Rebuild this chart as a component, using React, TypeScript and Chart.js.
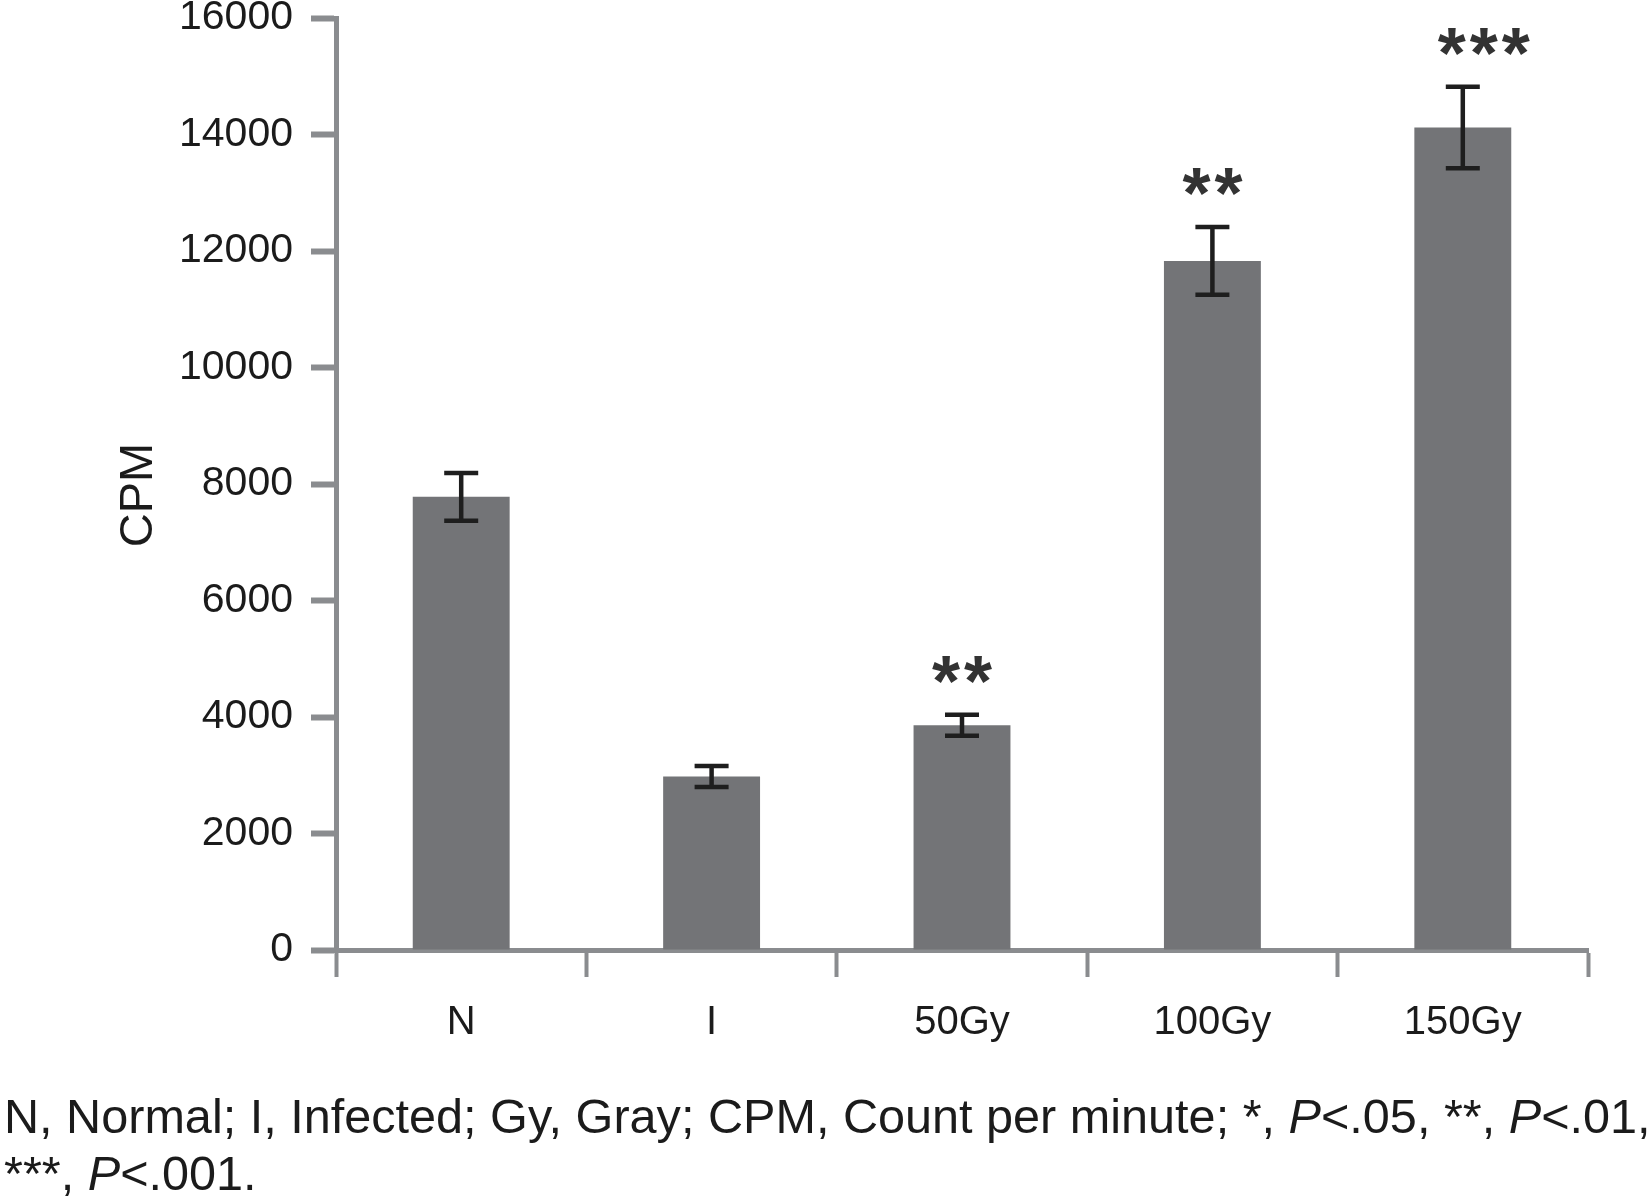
import React, { useEffect, useRef } from 'react';
import { Chart, registerables } from 'chart.js';

Chart.register(...registerables);

// ---- data ----
const categories = ['N', 'I', '50Gy', '100Gy', '150Gy'];
const cpmMeans = [7780, 2980, 3860, 11830, 14120];
const cpmErrors = [410, 180, 180, 580, 700];
const significance = ['', '', '**', '**', '***'];
const yMin = 0;
const yMax = 16000;
const yStep = 2000;
const yAxisTitle = 'CPM';
// caption segments: [text, italic]
const captionLine1: [string, boolean][] = [
  ['N, Normal; I, Infected; Gy, Gray; CPM, Count per minute; *, ', false],
  ['P', true],
  ['<.05, **, ', false],
  ['P', true],
  ['<.01,', false],
];
const captionLine2: [string, boolean][] = [
  ['***, ', false],
  ['P', true],
  ['<.001.', false],
];

const FONT = '"Liberation Sans", Arial, Helvetica, sans-serif';
const AXIS_COLOR = '#8a8c8f';
const TEXT_COLOR = '#1b1b1b';
const BAR_COLOR = '#737477';

const errorBarPlugin = {
  id: 'errorBarsAndStars',
  afterDatasetsDraw(chart: any) {
    const meta = chart.getDatasetMeta(0);
    const y = chart.scales.y;
    const ctx = chart.ctx;
    ctx.save();
    ctx.strokeStyle = '#1e1e1e';
    ctx.lineWidth = 4.5;
    ctx.lineCap = 'butt';
    meta.data.forEach((bar: any, i: number) => {
      const x = bar.x;
      const top = y.getPixelForValue(cpmMeans[i] + cpmErrors[i]);
      const bot = y.getPixelForValue(cpmMeans[i] - cpmErrors[i]);
      const half = 17;
      ctx.beginPath();
      ctx.moveTo(x, top);
      ctx.lineTo(x, bot);
      ctx.moveTo(x - half, top);
      ctx.lineTo(x + half, top);
      ctx.moveTo(x - half, bot);
      ctx.lineTo(x + half, bot);
      ctx.stroke();
      const sig = significance[i];
      if (sig) {
        const size = 72;
        ctx.font = `bold ${size}px ${FONT}`;
        (ctx as any).letterSpacing = '4px';
        ctx.fillStyle = '#333333';
        ctx.textAlign = 'center';
        ctx.textBaseline = 'alphabetic';
        const centerY = top - 50;
        const shift = sig.length >= 3 ? 23 : 2;
        ctx.fillText(sig, x + shift, centerY + 0.573 * size);
        (ctx as any).letterSpacing = '0px';
      }
    });
    ctx.restore();
  },
  afterDraw(chart: any) {
    const ctx = chart.ctx;
    ctx.save();
    ctx.fillStyle = TEXT_COLOR;
    ctx.textAlign = 'left';
    ctx.textBaseline = 'alphabetic';
    const draw = (segs: [string, boolean][], x0: number, yb: number) => {
      let x = x0;
      for (const [t, it] of segs) {
        ctx.font = `${it ? 'italic ' : ''}48.6px ${FONT}`;
        ctx.fillText(t, x, yb);
        x += ctx.measureText(t).width;
      }
    };
    draw(captionLine1, 4, 1133);
    draw(captionLine2, 4, 1190);

    // y-axis title
    const ya = chart.scales.y;
    ctx.save();
    ctx.translate(139, (ya.top + ya.bottom) / 2 + 11);
    ctx.rotate(-Math.PI / 2);
    ctx.font = `47px ${FONT}`;
    ctx.textAlign = 'center';
    ctx.textBaseline = 'middle';
    ctx.fillText(yAxisTitle, 0, 0);
    ctx.restore();
    ctx.restore();
  },
};

export default function App() {
  const ref = useRef<HTMLCanvasElement>(null);
  useEffect(() => {
    if (!ref.current) return;
    const chart = new Chart(ref.current, {
      type: 'bar',
      data: {
        labels: categories,
        datasets: [
          {
            data: cpmMeans,
            backgroundColor: BAR_COLOR,
            borderWidth: 0,
            barPercentage: 0.387,
            categoryPercentage: 1,
          },
        ],
      },
      options: {
        animation: false,
        responsive: false,
        devicePixelRatio: 1,
        layout: { padding: { left: 107, right: 63, top: 18, bottom: 0 } },
        plugins: {
          legend: { display: false },
          tooltip: { enabled: false },
        },
        scales: {
          x: {
            grid: {
              display: true,
              drawOnChartArea: false,
              drawTicks: true,
              tickLength: 27,
              tickWidth: 4,
              tickColor: AXIS_COLOR,
              offset: true,
            },
            border: { display: true, color: AXIS_COLOR, width: 5 },
            ticks: {
              color: TEXT_COLOR,
              font: { family: FONT, size: 40 },
              padding: 22,
              maxRotation: 0,
            },
            afterFit(scale: any) {
              scale.height = 1201 - 950;
              scale.paddingLeft = 0;
              scale.paddingRight = 0;
            },
          },
          y: {
            min: yMin,
            max: yMax,
            ticks: {
              stepSize: yStep,
              color: TEXT_COLOR,
              font: { family: FONT, size: 41 },
              padding: 18,
              callback: (v: any) => String(v),
            },
            grid: {
              display: true,
              drawOnChartArea: false,
              drawTicks: true,
              tickLength: 25,
              tickWidth: 6,
              tickColor: AXIS_COLOR,
            },
            border: { display: true, color: AXIS_COLOR, width: 5 },
            title: { display: false },
            afterFit(scale: any) {
              scale.width = 336 - 107;
              scale.paddingTop = 0;
              scale.paddingBottom = 0;
            },
          },
        },
      },
      plugins: [errorBarPlugin],
    });
    return () => chart.destroy();
  }, []);
  return (
    <div style={{ position: 'absolute', left: 0, top: 0, width: 1651, height: 1201, background: '#fff' }}>
      <canvas ref={ref} width={1651} height={1201} />
    </div>
  );
}
